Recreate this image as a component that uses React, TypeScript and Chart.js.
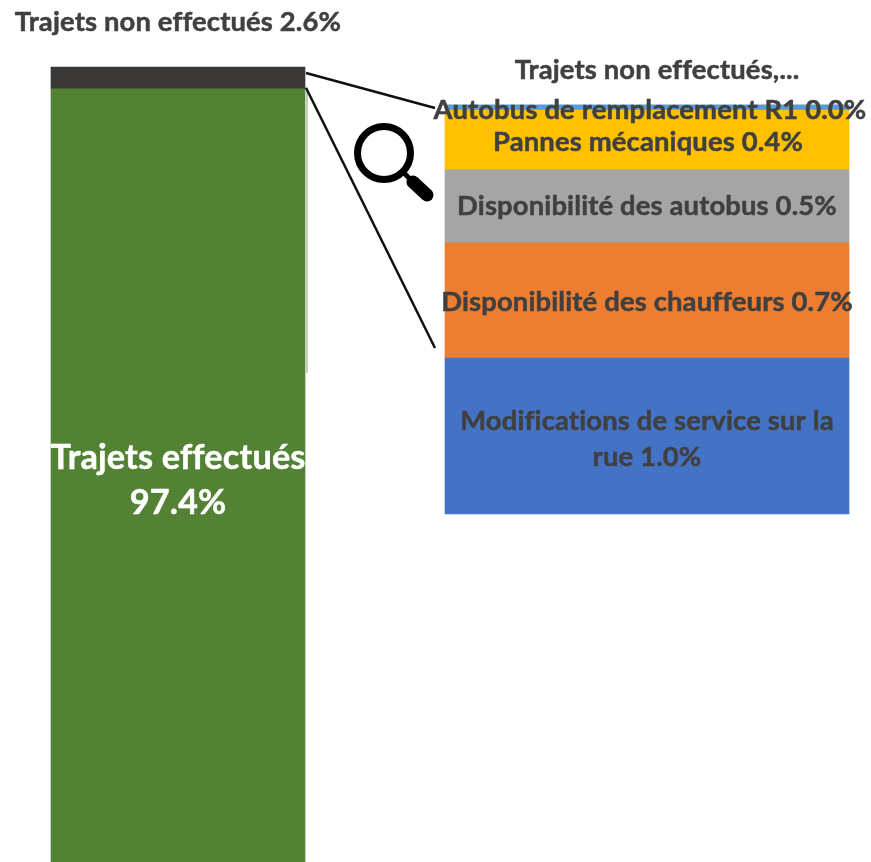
import React, { useEffect, useRef } from "react";
import { Chart, registerables } from "chart.js";

Chart.register(...registerables);

const categories = ["Tous les trajets", "Trajets non effectués"];

const effectues = [97.4, null];
const nonEffectues = [2.6, null];
const modifications = [null, 0.991];
const chauffeurs = [null, 0.731];
const disponibilite = [null, 0.464];
const pannes = [null, 0.381];
const remplacement = [null, 0.032];

const labelEffectues = ["Trajets effectués", "97.4%"];
const labelNonEffectues = ["Trajets non effectués 2.6%"];
const labelModifications = ["Modifications de service sur la", "rue 1.0%"];
const labelChauffeurs = ["Disponibilité des chauffeurs 0.7%"];
const labelDisponibilite = ["Disponibilité des autobus 0.5%"];
const labelPannes = ["Pannes mécaniques 0.4%"];
const labelRemplacement = ["Autobus de remplacement R1 0.0%"];
const rightTitle = "Trajets non effectués,...";

const FONT = "Lato, Carlito, 'Open Sans', sans-serif";
const DARK_TEXT = "#404040";

const overlay = {
  id: "overlay",
  afterDatasetsDraw(chart: any) {
    const { ctx } = chart;
    const el = (i: number, idx: number) => chart.getDatasetMeta(i).data[idx];
    const dark = el(1, 0);
    const green = el(0, 0);
    const top = el(6, 1);
    const orange = el(3, 1);

    ctx.save();
    // faint artefact beside the left bar
    ctx.strokeStyle = "rgba(110,150,80,0.6)";
    ctx.lineWidth = 1.5;
    ctx.beginPath();
    ctx.moveTo(dark.x + 129, dark.base);
    ctx.lineTo(dark.x + 129, 373);
    ctx.stroke();

    // connector lines
    ctx.strokeStyle = "#111111";
    ctx.lineWidth = 2.5;
    ctx.beginPath();
    ctx.moveTo(dark.x + dark.width / 2 + 1, dark.y + 6);
    ctx.lineTo(top.x - top.width / 2 - 10, top.y + 3);
    ctx.moveTo(dark.x + dark.width / 2 + 1, dark.base - 1);
    ctx.lineTo(orange.x - orange.width / 2 - 10, orange.base - 10);
    ctx.stroke();

    // magnifying glass
    ctx.strokeStyle = "#000000";
    ctx.lineCap = "round";
    ctx.lineWidth = 7;
    ctx.beginPath();
    ctx.arc(384, 153, 26.5, 0, Math.PI * 2);
    ctx.stroke();
    ctx.lineWidth = 5;
    ctx.beginPath();
    ctx.moveTo(403, 172);
    ctx.lineTo(411, 180);
    ctx.stroke();
    ctx.lineWidth = 13;
    ctx.beginPath();
    ctx.moveTo(413, 182);
    ctx.lineTo(427, 195);
    ctx.stroke();

    // labels
    ctx.textAlign = "center";
    ctx.textBaseline = "middle";
    ctx.lineJoin = "round";
    ctx.letterSpacing = "0.15px";
    const draw = (lines: string[], x: number, y: number, size: number, gap: number, color: string) => {
      ctx.font = `bold ${size}px ${FONT}`;
      ctx.fillStyle = color;
      ctx.strokeStyle = color;
      ctx.lineWidth = 0.5;
      lines.forEach((l, i) => {
        const ly = y + (i - (lines.length - 1) / 2) * gap;
        ctx.fillText(l, x, ly);
        ctx.strokeText(l, x, ly);
      });
    };
    draw(labelNonEffectues, dark.x, dark.y - 45, 27.4, 0, DARK_TEXT);
    draw(labelEffectues, green.x, 480, 34.3, 45, "#ffffff");
    draw([rightTitle], top.x + 10, top.y - 35, 27.4, 0, DARK_TEXT);
    draw(labelRemplacement, top.x + 3, top.y + 5, 27.4, 0, DARK_TEXT);
    const center = (i: number) => {
      const e = el(i, 1);
      return { x: e.x, y: (e.y + e.base) / 2 };
    };
    const p = center(5);
    draw(labelPannes, p.x + 1, p.y + 2, 27.4, 0, DARK_TEXT);
    const g = center(4);
    draw(labelDisponibilite, g.x, g.y, 27.4, 0, DARK_TEXT);
    const o = center(3);
    draw(labelChauffeurs, o.x, o.y + 2, 27.4, 0, DARK_TEXT);
    const b = center(2);
    draw(labelModifications, b.x, b.y + 3, 27.4, 36, DARK_TEXT);
    ctx.restore();
  },
};

export default function App() {
  const ref = useRef<HTMLCanvasElement | null>(null);
  useEffect(() => {
    const left = { yAxisID: "y", barThickness: 254, stack: "s", clip: false as const, borderWidth: 0 };
    const right = { yAxisID: "y2", barThickness: 404, stack: "s", clip: false as const, borderWidth: 0 };
    const chart = new Chart(ref.current!, {
      type: "bar",
      data: {
        labels: categories,
        datasets: [
          { label: "Trajets effectués", data: effectues, backgroundColor: "#548235", ...left },
          { label: "Trajets non effectués", data: nonEffectues, backgroundColor: "#3B3838", ...left },
          { label: "Modifications de service sur la rue", data: modifications, backgroundColor: "#4472C4", ...right },
          { label: "Disponibilité des chauffeurs", data: chauffeurs, backgroundColor: "#ED7D31", ...right },
          { label: "Disponibilité des autobus", data: disponibilite, backgroundColor: "#A5A5A5", ...right },
          { label: "Pannes mécaniques", data: pannes, backgroundColor: "#FFC000", ...right },
          { label: "Autobus de remplacement R1", data: remplacement, backgroundColor: "#5B9BD5", ...right },
        ],
      },
      options: {
        animation: false,
        responsive: false,
        layout: { padding: { left: 178, right: 224, top: 67, bottom: 0 } },
        plugins: { legend: { display: false }, title: { display: false }, tooltip: { enabled: false } },
        scales: {
          x: { stacked: true, offset: false, display: false },
          y: { stacked: true, display: false, min: 4.8, max: 100 },
          y2: { stacked: true, display: false, min: -2.212, max: 2.84 },
        },
      },
      plugins: [overlay],
    });
    return () => chart.destroy();
  }, []);
  return (
    <div style={{ position: "absolute", left: 0, top: 0, width: 871, height: 862, background: "#fff" }}>
      <canvas ref={ref} width={871} height={862} style={{ display: "block" }} />
    </div>
  );
}
